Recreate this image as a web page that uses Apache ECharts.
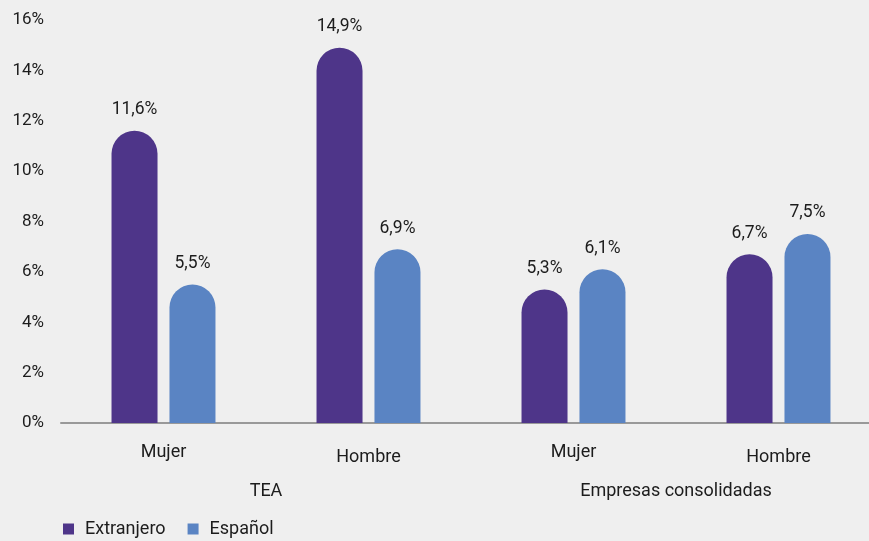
<!DOCTYPE html>
<html><head><meta charset="utf-8">
<script src="https://cdn.jsdelivr.net/npm/echarts@6/dist/echarts.min.js"></script>
<style>html,body{margin:0;padding:0;background:#efefef;}#c{width:869px;height:541px;}</style>
</head><body><div id="c"></div>
<script>
const categories = ['Mujer', 'Hombre', 'Mujer', 'Hombre'];
const groups = ['TEA', 'Empresas consolidadas'];
const extranjero = [11.6, 14.9, 5.3, 6.7];
const espanol = [5.5, 6.9, 6.1, 7.5];
const seriesNames = ['Extranjero', 'Español'];
const colors = ['#4e3589', '#5a84c3'];
const font = 'Roboto';
const txt = '#1c1c1c';

const chart = echarts.init(document.getElementById('c'));
const lbl = {
  show: true, position: 'top', distance: 12,
  fontFamily: font, fontSize: 17.5, color: txt,
  formatter: p => p.value.toFixed(1).replace('.', ',') + '%'
};
chart.setOption({
  backgroundColor: '#efefef',
  animation: false,
  textStyle: { fontFamily: font },
  legend: {
    left: 58, top: 515, itemWidth: 11, itemHeight: 11, itemGap: 22,
    icon: 'rect',
    textStyle: { fontFamily: font, fontSize: 18, color: txt, padding: [0, 0, 0, 6] },
    data: seriesNames
  },
  grid: { left: 61, width: 820, top: 20, height: 403, outerBoundsMode: 'none', containLabel: false },
  xAxis: [{
    type: 'category', data: categories,
    axisLine: { lineStyle: { color: '#999', width: 2 } },
    axisTick: { show: false },
    axisLabel: {
      margin: 20, fontFamily: font, fontSize: 18, color: txt,
      formatter: (v, i) => (i % 2 ? '{h|' + v + '}' : '{m|' + v + '}'),
      rich: { m: { fontSize: 18, color: txt, fontFamily: font }, h: { fontSize: 18, color: txt, fontFamily: font, padding: [5, 0, 0, 0] } }
    }
  }, {
    type: 'category', data: groups, position: 'bottom',
    axisLine: { show: false }, axisTick: { show: false },
    axisLabel: { margin: 59, fontFamily: font, fontSize: 18, color: txt }
  }],
  yAxis: {
    type: 'value', min: 0, max: 16, interval: 2,
    splitLine: { show: false },
    axisLine: { show: false }, axisTick: { show: false },
    axisLabel: { margin: 17, fontFamily: font, fontSize: 17, color: txt, formatter: v => v + '%' }
  },
  series: [
    { name: seriesNames[0], type: 'bar', data: extranjero, barWidth: 46, barGap: '26%',
      itemStyle: { color: colors[0], borderRadius: [23, 23, 0, 0] }, label: lbl },
    { name: seriesNames[1], type: 'bar', data: espanol, barWidth: 46,
      itemStyle: { color: colors[1], borderRadius: [23, 23, 0, 0] }, label: lbl }
  ]
});
</script></body></html>
